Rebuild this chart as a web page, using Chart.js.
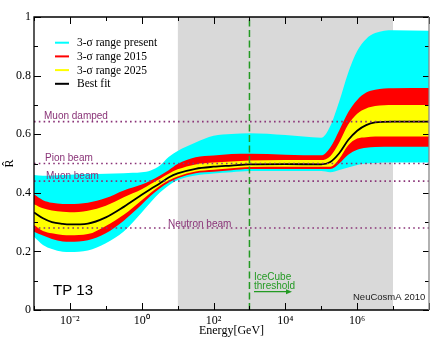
<!DOCTYPE html>
<html><head><meta charset="utf-8">
<script src="https://cdn.jsdelivr.net/npm/chart.js@4.4.0/dist/chart.umd.min.js"></script>
<style>html,body{margin:0;padding:0;background:#fff}#wrap{width:446px;height:345px}</style>
</head><body><div id="wrap"><canvas id="c" width="446" height="345"></canvas></div>
<script>
// ---- data ----
const energy      = [0.001,0.00178,0.00316,0.0063,0.01,0.0316,0.1,0.316,1,1.78,3.16,5.62,10,31.6,100,316,1000,1e4,1e5,1.78e5,3.16e5,5.62e5,1e6,1.78e6,3.16e6,1e7,1e8];
const bestFit     = [0.333,0.313,0.300,0.294,0.292,0.295,0.316,0.352,0.393,0.413,0.432,0.452,0.466,0.482,0.489,0.493,0.497,0.498,0.497,0.505,0.535,0.580,0.612,0.631,0.640,0.643,0.643];
const yellowTop   = [0.361,0.347,0.340,0.335,0.334,0.339,0.356,0.385,0.412,0.430,0.447,0.465,0.480,0.497,0.503,0.507,0.510,0.512,0.512,0.525,0.572,0.633,0.670,0.688,0.696,0.700,0.700];
const yellowBot   = [0.290,0.270,0.262,0.256,0.255,0.259,0.287,0.325,0.375,0.400,0.423,0.442,0.456,0.473,0.479,0.484,0.488,0.489,0.489,0.489,0.515,0.562,0.585,0.590,0.592,0.592,0.592];
const redTop      = [0.395,0.375,0.366,0.362,0.362,0.366,0.382,0.408,0.428,0.442,0.458,0.477,0.498,0.521,0.527,0.532,0.533,0.530,0.528,0.555,0.613,0.675,0.717,0.742,0.752,0.757,0.758];
const redBot      = [0.267,0.254,0.242,0.234,0.233,0.238,0.262,0.305,0.360,0.390,0.415,0.435,0.450,0.467,0.472,0.477,0.481,0.481,0.481,0.481,0.500,0.530,0.547,0.554,0.556,0.557,0.557];
const cyanTop     = [0.461,0.458,0.459,0.461,0.462,0.464,0.465,0.467,0.470,0.476,0.492,0.522,0.543,0.572,0.595,0.601,0.603,0.597,0.588,0.628,0.712,0.810,0.884,0.925,0.945,0.955,0.953];
const cyanBot     = [0.250,0.222,0.208,0.199,0.198,0.203,0.228,0.268,0.333,0.368,0.400,0.425,0.443,0.459,0.466,0.470,0.474,0.474,0.474,0.470,0.478,0.486,0.495,0.500,0.502,0.503,0.503];
const refLevels   = [0.643,0.5,0.44,0.28];
const refLabels   = ['Muon damped','Pion beam','Muon beam','Neutron beam'];
const shadeRange  = [10,1e7];
const thresholdE  = 1000;
const xRange      = [1e-3,1e8];
const tickDecades = [1e-3,1e-2,1e-1,1,10,100,1e3,1e4,1e5,1e6,1e7,1e8];
const xTickValues = [1e-2,1,100,1e4,1e6];
const xTickLabels = ['10\u207B\u00B2','10\u2070','10\u00B2','10\u2074','10\u2076'];
const yMinor      = [0.1,0.3,0.5,0.7,0.9];
const legendLabels= ['3-\u03C3 range present','3-\u03C3 range 2015','3-\u03C3 range 2025','Best fit'];

// ---- build ----
const pts = arr => arr.map((v,i)=>({x:energy[i],y:v}));
const band = (arr,color,fill) => ({data:pts(arr),borderWidth:0,borderColor:color,backgroundColor:color,pointRadius:0,fill:fill,cubicInterpolationMode:'monotone'});
const PURPLE='#8a3478', GREEN='#239a23';

const datasets = [];
// reference dotted lines (drawn on top)
refLevels.forEach(v=>datasets.push({data:[{x:xRange[0],y:v},{x:xRange[1],y:v}],borderColor:PURPLE,borderWidth:1.6,borderDash:[1.6,3.2],pointRadius:0,fill:false}));
// threshold dashed
datasets.push({data:[{x:thresholdE,y:0},{x:thresholdE,y:1}],borderColor:GREEN,borderWidth:1.5,borderDash:[7,3.5],pointRadius:0,fill:false});
// best fit
datasets.push({data:pts(bestFit),borderColor:'#000',borderWidth:1.8,pointRadius:0,fill:false,cubicInterpolationMode:'monotone'});
const iYB = datasets.length;
datasets.push(band(yellowBot,'#ffff00','+1'));
datasets.push(band(yellowTop,'#ffff00',false));
datasets.push(band(redBot,'#ff0000','+1'));
datasets.push(band(redTop,'#ff0000',false));
datasets.push(band(cyanBot,'#00ffff','+1'));
datasets.push(band(cyanTop,'#00ffff',false));
// shaded energy window
datasets.push({data:[{x:shadeRange[0],y:1},{x:shadeRange[1],y:1}],borderWidth:0,pointRadius:0,backgroundColor:'#d9d9d9',fill:'origin'});

const deco = {
  id:'deco',
  afterDatasetsDraw(chart){
    const {ctx} = chart;
    ctx.save();
    ctx.fillStyle = PURPLE;
    ctx.font = '10px "Liberation Sans", Arial, sans-serif';
    ctx.textBaseline='alphabetic';
    const lp = [[44,118.5],[45,161],[46,179],[168,227]];
    refLabels.forEach((t,i)=>ctx.fillText(t,lp[i][0],lp[i][1]));
    // TP 13
    ctx.fillStyle='#000';
    ctx.font = '15px "Liberation Sans", Arial, sans-serif';
    ctx.fillText('TP 13',53,295);
    // NeuCosmA
    ctx.font = '9.5px "Liberation Sans", Arial, sans-serif';
    ctx.fillStyle='#222';
    ctx.fillText('NeuCosmA 2010',353,300);
    // IceCube threshold
    ctx.fillStyle=GREEN;
    ctx.font = '10px "Liberation Sans", Arial, sans-serif';
    ctx.fillText('IceCube',254,279.5);
    ctx.fillText('threshold',254,288.5);
    ctx.strokeStyle=GREEN; ctx.lineWidth=1.2;
    ctx.beginPath(); ctx.moveTo(254,291.7); ctx.lineTo(288,291.7); ctx.stroke();
    ctx.beginPath(); ctx.moveTo(292,291.7); ctx.lineTo(286,289.2); ctx.lineTo(286,294.2); ctx.closePath(); ctx.fill();
    // legend
    const lc = ['#00ffff','#ff0000','#ffff00','#000'];
    ctx.font = '11.5px "Liberation Serif", "Times New Roman", serif';
    ctx.textBaseline='middle';
    legendLabels.forEach((t,i)=>{
      const yy = 42.7 + i*13.7;
      ctx.strokeStyle=lc[i]; ctx.lineWidth=2;
      ctx.beginPath(); ctx.moveTo(55,yy); ctx.lineTo(69,yy); ctx.stroke();
      ctx.fillStyle='#000';
      ctx.fillText(t,77,yy+0.5);
    });
    ctx.restore();
  },
  afterDraw(chart){
    const {ctx, chartArea:a, scales:{x,y}} = chart;
    ctx.save();
    ctx.strokeStyle='#000'; ctx.lineWidth=1;
    ctx.beginPath();
    tickDecades.forEach((v,i)=>{
      const px = Math.round(x.getPixelForValue(v))+0.5;
      const L = (i%2===1)?7:4;
      ctx.moveTo(px,a.bottom); ctx.lineTo(px,a.bottom-L);
      ctx.moveTo(px,a.top); ctx.lineTo(px,a.top+L);
    });
    [0,0.2,0.4,0.6,0.8,1].forEach(v=>{
      const py = Math.round(y.getPixelForValue(v))+0.5;
      ctx.moveTo(a.left,py); ctx.lineTo(a.left+7,py);
      ctx.moveTo(a.right,py); ctx.lineTo(a.right-6,py);
    });
    yMinor.forEach(v=>{
      const py = Math.round(y.getPixelForValue(v))+0.5;
      ctx.moveTo(a.left,py); ctx.lineTo(a.left+4,py);
      ctx.moveTo(a.right,py); ctx.lineTo(a.right-4,py);
    });
    ctx.stroke();
    ctx.lineWidth=1.3;
    ctx.beginPath();
    ctx.moveTo(a.right,a.top); ctx.lineTo(a.left,a.top); ctx.lineTo(a.left,a.bottom); ctx.lineTo(a.right,a.bottom);
    ctx.stroke();
    ctx.strokeStyle='#888';
    ctx.beginPath(); ctx.moveTo(a.right,a.top); ctx.lineTo(a.right,a.bottom); ctx.stroke();
    ctx.restore();
  }
};

const serif = '"Liberation Serif", "Times New Roman", serif';
new Chart(document.getElementById('c'),{
  type:'scatter',
  data:{datasets},
  options:{
    responsive:false, animation:false, devicePixelRatio:1,
    showLine:true,
    layout:{padding:{top:17,right:17,left:0,bottom:0}},
    plugins:{legend:{display:false},tooltip:{enabled:false}},
    elements:{line:{tension:0}},
    scales:{
      x:{type:'logarithmic',min:xRange[0],max:xRange[1],
        grid:{display:false,drawTicks:false},border:{display:false},
        afterBuildTicks:s=>{s.ticks=tickDecades.map(v=>({value:v}));},
        afterFit:s=>{s.height=35;},
        ticks:{autoSkip:false,maxRotation:0,padding:4,color:'#000',font:{family:serif,size:12},
          callback:(v)=>{const k=xTickValues.findIndex(t=>Math.abs(Math.log10(t)-Math.log10(v))<1e-6);return k>=0?xTickLabels[k]:'';}},
        title:{display:true,text:'Energy[GeV]',color:'#000',font:{family:serif,size:12},padding:{top:0,bottom:7}}
      },
      y:{min:0,max:1,
        grid:{display:false,drawTicks:false},border:{display:false},
        afterFit:s=>{s.width=34;},
        ticks:{stepSize:0.2,padding:3,color:'#000',font:{family:serif,size:12},
          callback:v=>{const r=Math.round(v*10)/10;return (r===0||r===1)?String(r):r.toFixed(1);}},
        title:{display:true,text:'R\u0302',color:'#000',font:{family:serif,size:12},padding:{top:3,bottom:0}}
      }
    }
  },
  plugins:[deco]
});
</script></body></html>
